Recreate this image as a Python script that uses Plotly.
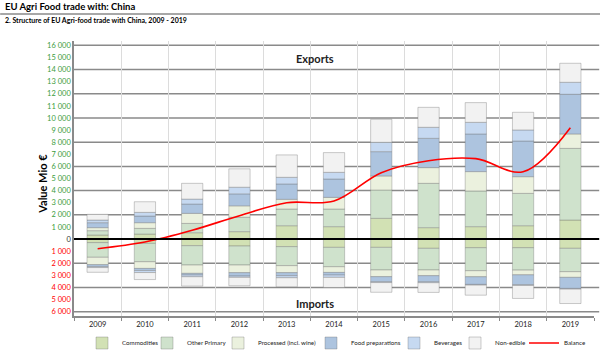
import plotly.graph_objects as go

years = ["2009", "2010", "2011", "2012", "2013", "2014", "2015", "2016", "2017", "2018", "2019"]

categories = ["Commodities", "Other Primary", "Processed (incl. wine)", "Food preparations", "Beverages", "Non-edible"]
colors = ["#d2e1b4", "#cfe2cc", "#ebf1de", "#adc4df", "#c6d9f1", "#f2f2f2"]

exp_commodities = [330, 410, 520, 610, 1100, 1020, 1710, 940, 1020, 1100, 1570]
exp_other_primary = [360, 470, 770, 1190, 1380, 1460, 2340, 3660, 2950, 2670, 5920]
exp_processed = [250, 470, 830, 940, 800, 960, 1160, 1300, 1600, 1380, 1190]
exp_food_prep = [410, 550, 770, 990, 1270, 1520, 2010, 2420, 3110, 2950, 3280]
exp_beverages = [220, 300, 410, 550, 550, 550, 770, 910, 960, 910, 990]
exp_non_edible = [470, 880, 1300, 1520, 1850, 1630, 1900, 1650, 1630, 1460, 1570]

imp_commodities = [300, 360, 550, 580, 630, 690, 690, 770, 720, 720, 770]
imp_other_primary = [1210, 1520, 1600, 1570, 1570, 1600, 1870, 1790, 1900, 1850, 1930]
imp_processed = [610, 550, 690, 630, 580, 470, 550, 470, 500, 390, 470]
imp_food_prep = [160, 170, 140, 280, 250, 220, 410, 500, 630, 800, 910]
imp_beverages = [80, 170, 140, 110, 170, 190, 80, 80, 60, 80, 60]
imp_non_edible = [390, 580, 770, 690, 740, 830, 800, 800, 830, 1070, 1190]

balance = [-800, -250, 720, 1930, 3000, 3140, 5480, 6470, 6640, 5560, 9200]

exports = [exp_commodities, exp_other_primary, exp_processed, exp_food_prep, exp_beverages, exp_non_edible]
imports = [imp_commodities, imp_other_primary, imp_processed, imp_food_prep, imp_beverages, imp_non_edible]

# legend text start positions (px, container)
legend_text_x = [122, 187, 258, 351, 434, 495, 564]

FONT = "Lato"
fig = go.Figure()

legend_ids = ["legend"] + [f"legend{i}" for i in range(2, 8)]

for i, (name, col, ex, im) in enumerate(zip(categories, colors, exports, imports)):
    mk = dict(color=col, line=dict(color="rgba(110,110,110,0.35)", width=1))
    fig.add_trace(go.Bar(x=years, y=ex, name=name, marker=mk, legendgroup=name, showlegend=True,
                         legend=legend_ids[i]))
    fig.add_trace(go.Bar(x=years, y=[-v for v in im], name=name, marker=mk, legendgroup=name,
                         showlegend=False, legend=legend_ids[i]))

fig.add_trace(go.Scatter(x=years, y=balance, name="Balance", mode="lines", legend=legend_ids[6],
                         line=dict(color="#ff0000", width=1.6, shape="spline", smoothing=1.0)))

tickvals = list(range(-6000, 16001, 1000))
ticktext = []
for v in tickvals:
    s = f"{abs(v):,}".replace(",", " ")
    if v > 0:
        ticktext.append(f"<span style='color:#3c9c3c'>{s}</span>")
    elif v < 0:
        ticktext.append(f"<span style='color:#ff0000'>{s}</span>")
    else:
        ticktext.append(f"<span style='color:#333333'>{s}</span>")

shapes = []
for g in range(-6000, 16001, 2000):
    if g == 0:
        continue
    shapes.append(dict(type="line", xref="paper", yref="y", x0=0, x1=1.01, y0=g, y1=g,
                       line=dict(color="#8a8a8a", width=1.5), layer="below"))
shapes.append(dict(type="line", xref="paper", yref="y", x0=0, x1=1.01, y0=0, y1=0,
                   line=dict(color="#000000", width=2), layer="above"))
shapes.append(dict(type="line", xref="paper", yref="paper", x0=-0.142, x1=1.012, y0=1.098, y1=1.098,
                   line=dict(color="#8a8a8a", width=1.5)))

annotations = [
    dict(text="<b>EU Agri Food trade with: China</b>", xref="paper", yref="paper", x=-0.136, y=1.127,
         xanchor="left", yanchor="middle", showarrow=False, font=dict(family=FONT, size=9.5, color="#000000")),
    dict(text="<b>2. Structure of EU Agri-food trade with China, 2009 - 2019</b>", xref="paper", yref="paper",
         x=-0.136, y=1.073, xanchor="left", yanchor="middle", showarrow=False, font=dict(family=FONT, size=7, color="#000000")),
    dict(text="<b>Value Mio €</b>", xref="paper", yref="paper", x=-0.062, y=0.48, textangle=-90,
         xanchor="center", yanchor="middle", showarrow=False, font=dict(family=FONT, size=11, color="#000000")),
    dict(text="<b>Exports</b>", xref="x", yref="y", x=4.6, y=14900, showarrow=False,
         font=dict(family=FONT, size=11, color="#222222")),
    dict(text="<b>Imports</b>", xref="x", yref="y", x=4.6, y=-5350, showarrow=False,
         font=dict(family=FONT, size=11, color="#222222")),
]

layout_legends = {}
for lid, tx in zip(legend_ids, legend_text_x):
    layout_legends[lid] = dict(orientation="h", xref="container", yref="container",
                               x=(tx - 40) / 600, xanchor="left", y=1 - 343 / 357, yanchor="middle",
                               font=dict(family=FONT, size=6.2, color="#222222"),
                               bgcolor="rgba(0,0,0,0)", borderwidth=0)

fig.update_layout(
    width=600, height=357,
    margin=dict(l=74, r=6, t=41, b=41, autoexpand=False),
    barmode="relative", bargap=0.55,
    plot_bgcolor="white", paper_bgcolor="white",
    font=dict(family=FONT, size=8, color="#222222"),
    shapes=shapes, annotations=annotations,
    xaxis=dict(type="category", tickson="boundaries", showgrid=True, gridcolor="#dcdcdc", gridwidth=1,
               showline=True, linecolor="#8a8a8a", linewidth=1.5, ticks="outside", ticklen=3, tickcolor="#8a8a8a",
               tickfont=dict(family=FONT, size=7.5, color="#222222"), automargin=False),
    yaxis=dict(range=[-6360, 16360], tickvals=tickvals, ticktext=ticktext, showgrid=False, zeroline=False,
               showline=True, linecolor="#8a8a8a", linewidth=1.5, ticks="",
               tickfont=dict(family=FONT, size=7.5), automargin=False),
    showlegend=True,
    **layout_legends,
)

fig.write_html("out.html", config={"displayModeBar": False},
               post_script="document.body.style.margin='0';")
